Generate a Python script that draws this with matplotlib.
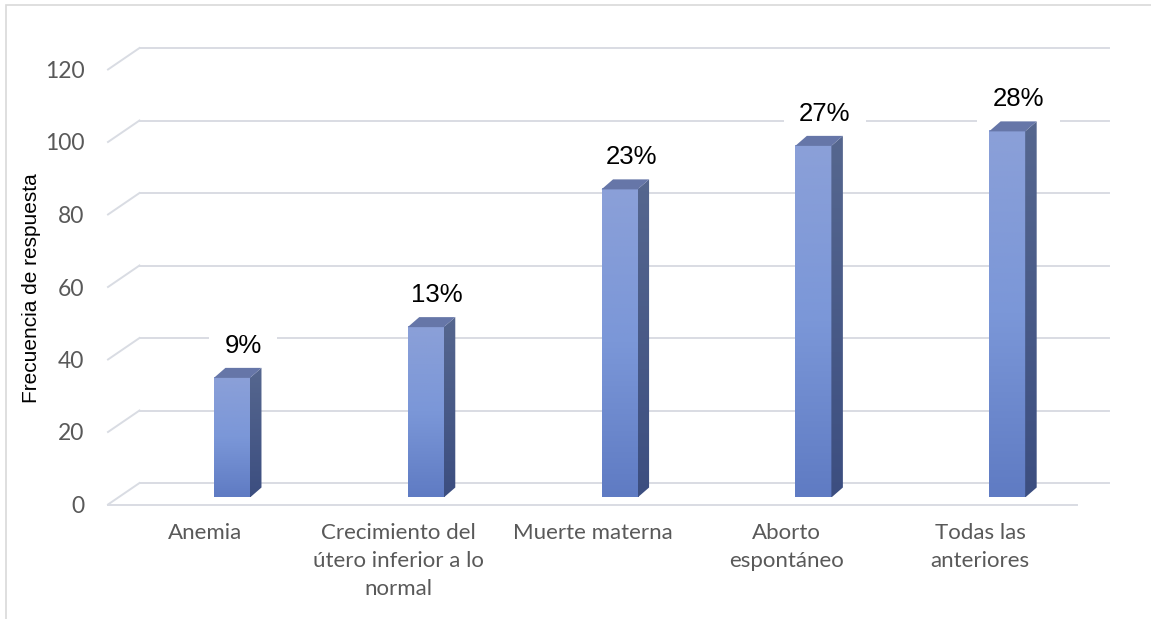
"""
3D-style column chart: frecuencia de respuesta por complicación.
"""
import numpy as np
import matplotlib
matplotlib.use("Agg")
import matplotlib.pyplot as plt
from matplotlib.lines import Line2D
from matplotlib.patches import Polygon, Rectangle
from matplotlib.transforms import IdentityTransform, Affine2D
from matplotlib.colors import LinearSegmentedColormap

# data
categories = ["Anemia", "Crecimiento del\nútero inferior a lo\nnormal",
              "Muerte materna", "Aborto\nespontáneo", "Todas las\nanteriores"]
counts = [33, 47, 85, 97, 101]
y_ticks = [0, 20, 40, 60, 80, 100, 120]

W, H = 1151, 619
GRID = "#d9dce3"
TEXT = "#595959"

# oblique "3D" offsets in pixels (display coords, y up)
FLOOR = np.array([31.5, 21.5])     # front edge of floor -> back wall
BAR_FRONT = np.array([10.0, 7.0])  # front edge of floor -> bar front face
BAR_DEPTH = np.array([11.5, 10.0])
BAR_SHIFT = 0.088
BAR_W = 0.186

fig = plt.figure(figsize=(W / 100, H / 100), dpi=100)
ax = fig.add_axes([108 / W, (H - 504.5) / H, 969 / W, 435 / H])
ax.set_xlim(-0.5, 4.5)
ax.set_ylim(0, 120)
for s in ax.spines.values():
    s.set_visible(False)

ident = IdentityTransform()


def proj(x, y, off):
    return ax.transData.transform((x, y)) + off


def seg(p, q, **kw):
    ax.add_line(Line2D([p[0], q[0]], [p[1], q[1]], transform=ident,
                       clip_on=False, **kw))


# gridlines on back wall + left wall diagonals
for v in y_ticks:
    seg(proj(-0.5, v, FLOOR), proj(4.5, v, FLOOR), color=GRID, lw=1.4, zorder=1)
    seg(proj(-0.5, v, 0), proj(-0.5, v, FLOOR), color=GRID, lw=1.4, zorder=1)
# front edge of the floor
seg(proj(-0.5, 0, 0), proj(4.5, 0, 0), color=GRID, lw=1.4, zorder=1)

front_cmap = LinearSegmentedColormap.from_list("front", ["#5f7bc3", "#7b97d8", "#8ba0d8"])
side_cmap = LinearSegmentedColormap.from_list("side", ["#3c4e80", "#56678f"])
grad = np.linspace(0, 1, 256).reshape(-1, 1)

total = sum(counts)
for i, v in enumerate(counts):
    x0 = i + BAR_SHIFT - BAR_W / 2
    x1 = i + BAR_SHIFT + BAR_W / 2
    # front face with vertical gradient
    ax.imshow(grad, cmap=front_cmap, origin="lower", aspect="auto",
              extent=(x0, x1, 0, v), zorder=4,
              transform=ax.transData + Affine2D().translate(*BAR_FRONT))
    # side face
    side = [proj(x1, 0, BAR_FRONT), proj(x1, v, BAR_FRONT),
            proj(x1, v, BAR_FRONT + BAR_DEPTH), proj(x1, 0, BAR_FRONT + BAR_DEPTH)]
    side_patch = Polygon(side, closed=True, transform=ident, fc="none",
                         ec="none", zorder=4)
    ax.add_patch(side_patch)
    sx = [p[0] for p in side]
    sy = [p[1] for p in side]
    im = ax.imshow(grad, cmap=side_cmap, origin="lower", aspect="auto",
                   extent=(min(sx), max(sx), min(sy), max(sy)),
                   transform=ident, zorder=4)
    im.set_clip_path(side_patch)
    # top face
    top = [proj(x0, v, BAR_FRONT), proj(x1, v, BAR_FRONT),
           proj(x1, v, BAR_FRONT + BAR_DEPTH), proj(x0, v, BAR_FRONT + BAR_DEPTH)]
    ax.add_patch(Polygon(top, closed=True, transform=ident, fc="#6676a8",
                         ec="none", zorder=4))
    # percentage label
    lx, ly = proj(i + BAR_SHIFT, v, BAR_FRONT + BAR_DEPTH)
    ax.text(lx, ly + 22, f"{round(v / total * 100)}%", transform=ident,
            ha="center", va="center", fontsize=18.5, family="Liberation Sans",
            color="black", zorder=3,
            bbox=dict(boxstyle="square,pad=0.6", fc="white", ec="none"))

ax.set_xlim(-0.5, 4.5)
ax.set_ylim(0, 120)

ax.set_xticks(range(len(categories)))
ax.set_xticklabels(categories, fontsize=16, family="Lato", color=TEXT,
                   linespacing=1.5)
ax.set_yticks(y_ticks)
ax.set_yticklabels([str(t) for t in y_ticks], fontsize=16.5, family="Lato",
                   color=TEXT)
ax.tick_params(axis="x", length=0, pad=13)
ax.tick_params(axis="y", length=0, pad=17)

fig.text(32 / W, 1 - 288 / H, "Frecuencia de respuesta", rotation=90,
         ha="center", va="center", fontsize=15, family="Liberation Sans",
         color="black")

# chart frame (right and bottom edges fall outside the picture)
fig.add_artist(Rectangle((6 / W, -0.1), 1.2, 1.1 - 5 / H,
                         transform=fig.transFigure, fill=False,
                         ec="#d9d9d9", lw=1.2))

fig.savefig("out.png", dpi=100)
